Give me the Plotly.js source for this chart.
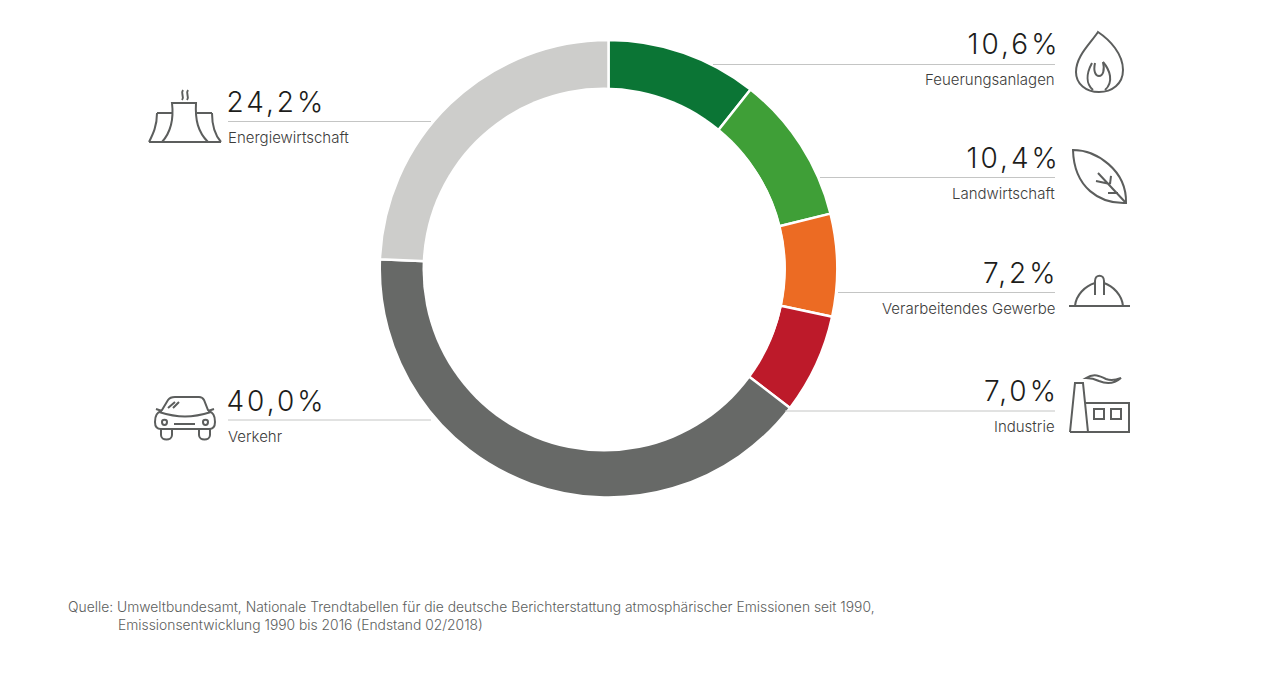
<!DOCTYPE html>
<html><head><meta charset="utf-8">
<script src="https://cdn.plot.ly/plotly-3.0.1.min.js"></script>
<style>
html,body{margin:0;padding:0;background:#fff}
#c{width:1280px;height:690px}
.annotation[data-index="0"] text,.annotation[data-index="1"] text,.annotation[data-index="2"] text,.annotation[data-index="3"] text,.annotation[data-index="4"] text,.annotation[data-index="5"] text{letter-spacing:3px}
</style></head><body><div id="c"></div>
<script>
const categories=["Feuerungsanlagen","Landwirtschaft","Verarbeitendes Gewerbe","Industrie","Verkehr","Energiewirtschaft"];
const shares=[10.6,10.4,7.2,7.0,40.0,24.2];
const shareLabels=["10,6%","10,4%","7,2%","7,0%","40,0%","24,2%"];
const colors=["#0b7535","#3f9f37","#ec6b23","#bd1a2a","#676967","#cdcdcb"];
const source="Quelle: Umweltbundesamt, Nationale Trendtabellen für die deutsche Berichterstattung atmosphärischer Emissionen seit 1990,";
const source2="Emissionsentwicklung 1990 bis 2016 (Endstand 02/2018)";
const W=1280,H=690;
const px=x=>x/W, py=y=>1-y/H;
function P(s){let i=0;return s.replace(/-?\d+(\.\d+)?/g,m=>{const v=parseFloat(m);return (i++%2===0?px(v):py(v)).toFixed(5);});}
const iconCol="#5c5e5d";
const icons=[
 "M1098 32 C1090 44 1076 56 1076 72 C1076 84 1086 92 1099 92 C1112 92 1123 84 1123 70 C1123 54 1110 40 1098 32 Z",
 "M1093 90 C1086 84 1086 74 1092 63 M1103 62 C1110 70 1114 82 1105 90",
 "M1095 63 C1093 72 1096 76 1099 76 C1103 76 1105 70 1103 62",
 "M1073 150 C1096 150 1127 170 1126 203 C1100 204 1074 188 1073 150 Z",
 "M1126 203 L1098 173 M1096 181 L1110 184 M1110 184 L1111 176 M1108 193 L1118 193",
 "M1069 306 L1130 306 M1075 306 C1076 295 1085 286 1095 283 M1123 306 C1122 295 1113 286 1104 283",
 "M1095 295 L1095 281 C1095 274 1104 274 1104 281 L1104 295",
 "M1070 432 L1129 432 L1129 403 L1086 403 M1070 432 L1075 383 L1083 383 L1088 432",
 "M1094 409 L1104 409 L1104 419 L1094 419 Z M1111 409 L1121 409 L1121 419 L1111 419 Z",
 "M1086 378 C1094 373 1100 376 1106 379 C1111 381 1116 380 1121 378 C1114 384 1106 384 1099 381 C1095 379 1091 378 1086 378 Z",
 "M149 142 L221 142 M157 113 L172 113 M197 113 L212 113 M157 113 C157 126 153 134 149 142 M162 142 C171 132 174 120 172 103 L196 103 C195 120 198 132 208 142 M212 113 C212 124 214 134 221 142",
 "M183 90 C180 94 185 96 182 100 M188 90 C185 94 190 96 187 100",
 "M155 422 C155 415 157 413 162 410 L168 400 C170 397 172 397 175 397 L199 397 C202 397 203 398 204 400 L208 410 C213 413 215 415 215 422 C215 427 213 429 209 429 L161 429 C157 429 155 427 155 422 Z",
 "M159 412 C178 418 192 418 211 412 M156 409 L162 411 M214 409 L208 411 M174 424 L195 424 M168 408 L175 402 M173 408 L179 402",
 "M161 429 L161 435 C161 441 172 441 172 435 L172 429 M199 429 L199 435 C199 441 210 441 210 435 L210 429",
 "M162 422 C162 426 167 426 167 422 C167 419 162 419 162 422 Z M203 422 C203 426 208 426 208 422 C208 419 203 419 203 422 Z"
];
const leaders=[[713,1055,64.5],[820,1055,177.5],[838,1055,292.5],[785,1055,411],[228,431,121.5],[228,431,420]];
leaders[4]=[228,431,420];leaders[5]=[228,431,121.5];
const holeShape={type:"circle",xref:"paper",yref:"paper",x0:px(604-181.5),x1:px(604+181.5),y0:py(269.5+182),y1:py(269.5-182),fillcolor:"#fff",line:{width:0},layer:"above"};
const shapes=[holeShape].concat(leaders.map(l=>({type:"line",xref:"paper",yref:"paper",x0:px(l[0]),x1:px(l[1]),y0:py(l[2]),y1:py(l[2]),line:{color:"#c4c5c4",width:1},layer:"above"})))
 .concat(icons.map(d=>({type:"path",xref:"paper",yref:"paper",path:P(d),line:{color:iconCol,width:2},layer:"above"})));
const valFont={family:"Inter, sans-serif",size:28,color:"#1d1d1b",weight:300};
const nameFont={family:"Inter, sans-serif",size:15,color:"#3c3c3b",weight:300};
const pos=[[1056,44,"right"],[1056,158,"right"],[1056,273,"right"],[1056,391,"right"],[228,401,"left"],[228,102,"left"]];
const ann=[];
pos.forEach((p,i)=>ann.push({xref:"paper",yref:"paper",x:px(p[0]+(p[2]==="right"?-1:4)),y:py(p[1]),xanchor:p[2],yanchor:"middle",text:shareLabels[i],showarrow:false,font:valFont}));
pos.forEach((p,i)=>ann.push({xref:"paper",yref:"paper",x:px(p[0]+(p[2]==="right"?1:-2)),y:py(p[1]+35.5),xanchor:p[2],yanchor:"middle",text:categories[i],showarrow:false,font:nameFont}));
const srcFont={family:"Inter, sans-serif",size:13.85,color:"#5c5e5d",weight:300};
ann.push({xref:"paper",yref:"paper",x:px(66),y:py(607),xanchor:"left",yanchor:"middle",text:source,showarrow:false,font:srcFont});
ann.push({xref:"paper",yref:"paper",x:px(116),y:py(625),xanchor:"left",yanchor:"middle",text:source2,showarrow:false,font:srcFont});
Plotly.newPlot("c",[{type:"pie",values:shares,labels:categories,sort:false,direction:"clockwise",rotation:0,hole:0.77,
 marker:{colors:colors,line:{color:"#fff",width:2.5}},textinfo:"none",hoverinfo:"label+percent",
 domain:{x:[px(379.5),px(837.5)],y:[py(497.5),py(40)]},showlegend:false}],
 {width:W,height:H,margin:{l:0,r:0,t:0,b:0},paper_bgcolor:"#fff",plot_bgcolor:"#fff",showlegend:false,shapes:shapes,annotations:ann},
 {displayModeBar:false,staticPlot:true});
</script></body></html>
